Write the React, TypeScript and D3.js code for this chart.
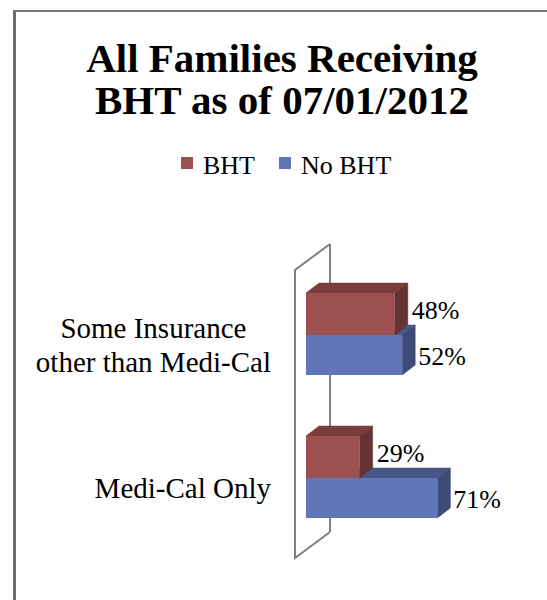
import React, { useEffect, useRef } from "react";
import * as d3 from "d3";

const categories = ["Some Insurance other than Medi-Cal", "Medi-Cal Only"];
const categoryLines = [["Some Insurance", "other than Medi-Cal"], ["Medi-Cal Only"]];
const seriesNames = ["BHT", "No BHT"];
const bhtValues = [48, 29];
const noBhtValues = [52, 71];
const titleLines = ["All Families Receiving", "BHT as of 07/01/2012"];

const W = 547;
const H = 600;
const FONT = "'Liberation Serif', 'Times New Roman', serif";

const redFaces = { front: "#9C5150", top: "#7B3D3C", side: "#653333" };
const blueFaces = { front: "#6076B6", top: "#475887", side: "#3E4B78" };

export default function App() {
  const ref = useRef<SVGSVGElement | null>(null);

  useEffect(() => {
    const svg = d3.select(ref.current);
    svg.selectAll("*").remove();

    // frame
    svg.append("line").attr("x1", 14.5).attr("x2", 14.5).attr("y1", 10).attr("y2", H)
      .attr("stroke", "#6b6b6b").attr("stroke-width", 3);
    svg.append("line").attr("x1", 13).attr("x2", W).attr("y1", 11).attr("y2", 11)
      .attr("stroke", "#777").attr("stroke-width", 2);

    // title
    const title = svg.append("text").attr("font-family", FONT).attr("font-weight", "bold")
      .attr("font-size", 41).attr("text-anchor", "middle").attr("fill", "#000");
    titleLines.forEach((t, i) => {
      title.append("tspan").attr("x", 282).attr("y", 72 + i * 42).text(t);
    });

    // legend
    const legendColors = [redFaces.front, blueFaces.front];
    const legendX = [181, 279];
    seriesNames.forEach((name, i) => {
      svg.append("rect").attr("x", legendX[i]).attr("y", 157).attr("width", 12).attr("height", 12)
        .attr("fill", legendColors[i]);
      svg.append("text").attr("x", legendX[i] + 22).attr("y", 174).attr("font-family", FONT)
        .attr("font-size", 26).attr("fill", "#000").text(name);
    });

    // scales
    const x = d3.scaleLinear().domain([0, 100]).range([306, 491]);
    const y = d3.scalePoint<string>().domain(categories).range([335, 478]);
    const barH = 41;
    const bdx = 13, bdy = -10; // bar depth
    const wdx = 35, wdy = -26; // wall depth
    const wallTop = 270, wallBottom = 558;
    const wallX = 295;

    // wall back line
    svg.append("line").attr("x1", wallX + wdx).attr("x2", wallX + wdx)
      .attr("y1", wallTop + wdy).attr("y2", wallBottom + wdy)
      .attr("stroke", "#808080").attr("stroke-width", 2);

    const drawBar = (x0: number, x1: number, y0: number, y1: number, c: { front: string; top: string; side: string }) => {
      const g = svg.append("g");
      g.append("path").attr("d", `M${x0},${y0}L${x0 + bdx},${y0 + bdy}L${x1 + bdx},${y0 + bdy}L${x1},${y0}Z`)
        .attr("fill", c.top).attr("stroke", c.top).attr("stroke-width", 0.5);
      g.append("path").attr("d", `M${x1},${y0}L${x1 + bdx},${y0 + bdy}L${x1 + bdx},${y1 + bdy}L${x1},${y1}Z`)
        .attr("fill", c.side).attr("stroke", c.side).attr("stroke-width", 0.5);
      g.append("rect").attr("x", x0).attr("y", y0).attr("width", x1 - x0).attr("height", y1 - y0)
        .attr("fill", c.front);
    };

    categories.forEach((cat, i) => {
      const cy = y(cat) as number;
      drawBar(x(0), x(noBhtValues[i]), cy, cy + barH - 1, blueFaces);
      drawBar(x(0), x(bhtValues[i]), cy - barH - 1, cy, redFaces);

      svg.append("text").attr("x", x(bhtValues[i]) + bdx + 4).attr("y", cy - barH / 2 - 4)
        .attr("dominant-baseline", "central").attr("font-family", FONT).attr("font-size", 26)
        .attr("fill", "#000").text(`${bhtValues[i]}%`);
      svg.append("text").attr("x", x(noBhtValues[i]) + bdx + 3).attr("y", cy + barH / 2 + 1)
        .attr("dominant-baseline", "central").attr("font-family", FONT).attr("font-size", 26)
        .attr("fill", "#000").text(`${noBhtValues[i]}%`);

      const lines = categoryLines[i];
      const lg = svg.append("g");
      const texts = lines.map((l, j) =>
        lg.append("text").attr("font-family", FONT).attr("font-size", 29).attr("fill", "#000")
          .attr("text-anchor", "middle").attr("dominant-baseline", "central")
          .attr("y", cy + 10 + (j - (lines.length - 1) / 2) * 34).text(l)
      );
      const maxW = d3.max(texts, (t) => (t.node() as SVGTextElement).getComputedTextLength()) || 0;
      texts.forEach((t) => t.attr("x", 271 - maxW / 2));
    });

    // wall front outline
    svg.append("path")
      .attr("d", `M${wallX + wdx},${wallTop + wdy}L${wallX},${wallTop}L${wallX},${wallBottom}L${wallX + wdx},${wallBottom + wdy}`)
      .attr("fill", "none").attr("stroke", "#808080").attr("stroke-width", 2);
  }, []);

  return (
    <svg ref={ref} width={W} height={H} style={{ position: "absolute", left: 0, top: 0, background: "#fff" }} />
  );
}
